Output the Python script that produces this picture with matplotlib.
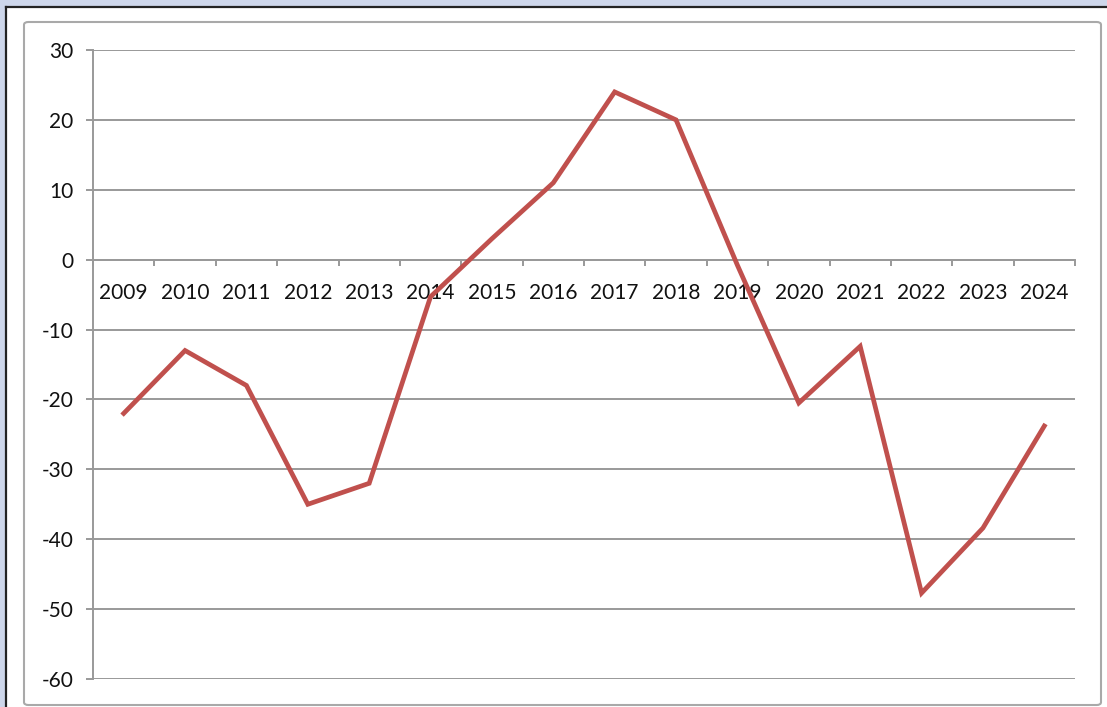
import numpy as np
import matplotlib.pyplot as plt
from matplotlib.patches import Rectangle, FancyBboxPatch

years = ["2009", "2010", "2011", "2012", "2013", "2014", "2015", "2016",
         "2017", "2018", "2019", "2020", "2021", "2022", "2023", "2024"]
values = [-22, -13, -18, -35, -32, -5.3, 3, 11,
          24, 20, -0.8, -20.5, -12.4, -47.7, -38.4, -23.8]

W, H = 1107, 707
plt.rcParams['font.family'] = ['Lato', 'DejaVu Sans']
plt.rcParams['axes.unicode_minus'] = False

fig = plt.figure(figsize=(W / 100, H / 100), dpi=100, facecolor="#cdd6ea")


def fx(px):
    return px / W


def fy(py):
    return 1 - py / H


# white page with a dark edge on the left and top
fig.add_artist(Rectangle((fx(6), 0), 1 - fx(6), fy(7), transform=fig.transFigure,
                         facecolor="white", edgecolor="none", zorder=-10))
fig.add_artist(plt.Line2D([fx(6), fx(6)], [0, fy(7)], transform=fig.transFigure,
                          color="#222222", lw=1.6, zorder=-9))
fig.add_artist(plt.Line2D([fx(6), 1], [fy(7), fy(7)], transform=fig.transFigure,
                          color="#222222", lw=1.6, zorder=-9))

# chart area frame
fig.add_artist(FancyBboxPatch((fx(24), fy(705)), fx(1101) - fx(24), fy(22) - fy(705),
                              boxstyle="round,pad=0,rounding_size=0.004",
                              transform=fig.transFigure, facecolor="white",
                              edgecolor="#a9a9a9", lw=1.5, zorder=-8))

ax = fig.add_axes([fx(93), fy(679), fx(1075) - fx(93), fy(50) - fy(679)])
ax.set_facecolor("none")

grid_c = "#999999"
x = np.arange(len(years))
ax.plot(x, values, color="#c0504d", lw=3.4, solid_joinstyle="miter", zorder=3)

ax.set_xlim(-0.5, len(years) - 0.5)
ax.set_ylim(-60, 30)
ax.set_yticks(np.arange(-60, 31, 10))
ax.yaxis.grid(True, color=grid_c, lw=1.4)
ax.set_axisbelow(True)

for s in ["top", "right"]:
    ax.spines[s].set_visible(False)
ax.spines["left"].set_color(grid_c)
ax.spines["left"].set_linewidth(1.4)
ax.spines["bottom"].set_position(("data", 0))
ax.spines["bottom"].set_color(grid_c)
ax.spines["bottom"].set_linewidth(1.4)

ax.tick_params(axis="y", length=5, width=1.4, color=grid_c, pad=9,
               labelsize=15, labelcolor="#111111")
ax.set_xticks(x)
ax.set_xticklabels(years)
ax.set_xticks(np.arange(-0.5, len(years)), minor=True)
ax.tick_params(axis="x", which="major", length=0, pad=17,
               labelsize=15, labelcolor="#111111")
ax.tick_params(axis="x", which="minor", length=4, width=1.4, color=grid_c,
               direction="out")

fig.savefig("out.png", dpi=100, facecolor=fig.get_facecolor())
